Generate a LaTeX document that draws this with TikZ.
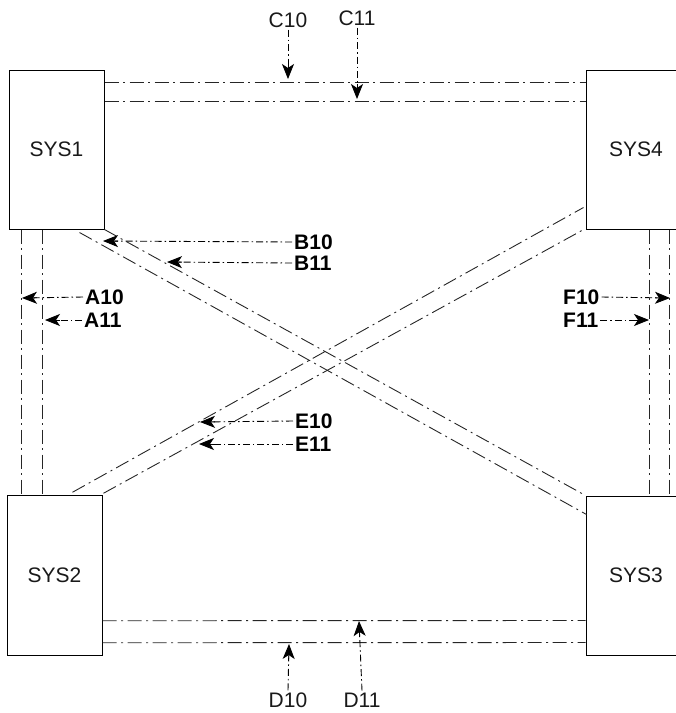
\documentclass[tikz,border=0pt]{standalone}
\usepackage{fontspec}
\setmainfont{Liberation Sans}
\usetikzlibrary{arrows.meta,calc}
\begin{document}
\begin{tikzpicture}[x=1pt,y=-1pt,
  sys/.style={draw,line width=1pt,inner sep=0pt,font=\fontsize{21}{21}\selectfont,text=black!90},
  chan/.style={line width=0.9pt,black!85,dash pattern=on 14pt off 4.5pt on 2pt off 4.5pt},
  shaft/.style={line width=0.9pt,black,dash pattern=on 7pt off 3pt on 1.5pt off 3pt,shorten >=12pt},
  head/.style={solid,line width=0.9pt,black,-{Stealth[length=15pt,width=12pt,inset=4pt,sep=0pt]}},
  lbl/.style={inner sep=0pt,font=\fontsize{21}{21}\selectfont,text=black!90},
  blbl/.style={inner sep=0pt,font=\bfseries\fontsize{21}{21}\selectfont,text=black}]
\useasboundingbox (0,0) rectangle (676,713);
\clip (0,0) rectangle (676,713);
% boxes
\node[sys,minimum width=95pt,minimum height=159pt] (S1) at (56.5,149.5) {SYS1};
\node[sys,minimum width=100pt,minimum height=159pt] (S4) at (636,149.5) {SYS4};
\node[sys,minimum width=95pt,minimum height=159.5pt] (S2) at (54.5,575.5) {SYS2};
\node[sys,minimum width=100pt,minimum height=159pt] (S3) at (636,575.5) {SYS3};
% top channel
\draw[chan] ($(S1.north east)+(0,13)$) -- ($(S4.north west)+(0,13)$);
\draw[chan] ($(S1.north east)+(0,32)$) -- ($(S4.north west)+(0,32)$);
% bottom channel
\draw[chan] ($(S2.south east)+(0,-35)$) -- ($(S3.south west)+(0,-35)$);
\draw[chan] ($(S2.south east)+(0,-13)$) -- ($(S3.south west)+(0,-13)$);
% left channel
\draw[chan] ($(S1.south west)+(13,0)$) coordinate (l1) -- (l1 |- S2.north);
\draw[chan] ($(S1.south west)+(34,0)$) coordinate (l2) -- (l2 |- S2.north);
% right channel
\draw[chan] ($(S4.south west)+(64,0)$) coordinate (r1) -- (r1 |- S3.north);
\draw[chan] ($(S4.south west)+(84,0)$) coordinate (r2) -- (r2 |- S3.north);
% diagonal SYS1 - SYS3
\draw[chan] (S1.south east) -- (S3.north west);
\draw[chan] ($(S1.south east)+(-25,3)$) -- ($(S3.north west)+(1,19)$);
% diagonal SYS2 - SYS4
\draw[chan] ($(S2.north west)+(66,-3)$) -- ($(S4.north west)+(-2,138)$);
\draw[chan] ($(S2.north east)+(1,-2)$) -- ($(S4.south west)+(0,-1)$);
% labels
\node[lbl] (C10) at (288,20) {C10};
\node[lbl] (C11) at (357,18) {C11};
\node[lbl] (D10) at (288,700) {D10};
\node[lbl] (D11) at (362,700) {D11};
\node[blbl,anchor=west] (B10) at (294,242) {B10};
\node[blbl,anchor=west] (B11) at (294,263) {B11};
\node[blbl,anchor=west] (A10) at (85,297) {A10};
\node[blbl,anchor=west] (A11) at (84,320) {A11};
\node[blbl,anchor=west] (E10) at (295,421) {E10};
\node[blbl,anchor=west] (E11) at (295,444) {E11};
\node[blbl,anchor=west] (F10) at (563,297) {F10};
\node[blbl,anchor=west] (F11) at (563,320) {F11};
% arrow tips
\coordinate (tC10) at (288,79);
\coordinate (tC11) at (357,99);
\coordinate (tD10) at (289,644);
\coordinate (tD11) at (359,621);
\coordinate (tB10) at (103,241);
\coordinate (tB11) at (167,262);
\coordinate (tA10) at (22,298);
\coordinate (tA11) at (45,320);
\coordinate (tE10) at (200,422);
\coordinate (tE11) at (199,444);
\coordinate (tF10) at (670,298);
\coordinate (tF11) at (649,320);
% arrows: dash-dot shaft plus solid head
\foreach \lab/\tip/\anc/\sh in {C10/tC10/south/{0,2}, C11/tC11/south/{0,2},
    D10/tD10/north/{0,-2}, D11/tD11/north/{0,-2},
    B10/tB10/west/{-2,0}, B11/tB11/west/{-2,0},
    A10/tA10/west/{-2,0}, A11/tA11/west/{-2,0},
    E10/tE10/west/{-2,0}, E11/tE11/west/{-2,0},
    F10/tF10/east/{2,0}, F11/tF11/east/{2,0}}{
  \draw[shaft] ($(\lab.\anc)+(\sh)$) -- (\tip);
  \draw[head] ($(\tip)!15pt!(\lab.\anc)$) -- (\tip);
}
\end{tikzpicture}
\end{document}
